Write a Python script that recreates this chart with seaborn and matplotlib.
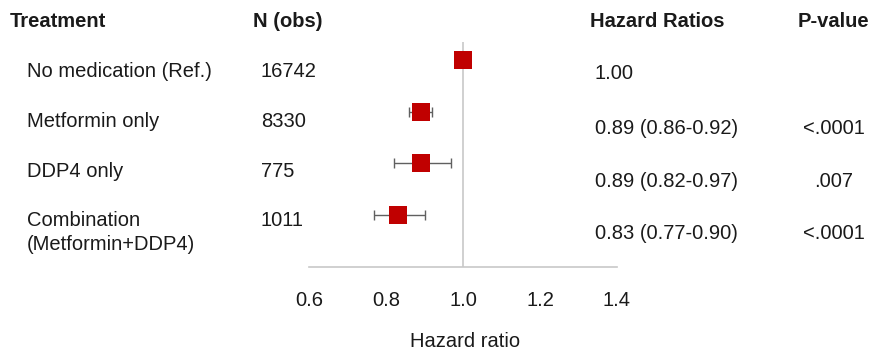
import matplotlib
matplotlib.use("Agg")
import matplotlib.pyplot as plt
import seaborn as sns
import pandas as pd

# ---- data ----
treatments = ["No medication (Ref.)", "Metformin only", "DDP4 only", "Combination\n(Metformin+DDP4)"]
n_obs = ["16742", "8330", "775", "1011"]
hr = [1.00, 0.89, 0.89, 0.83]
ci_low = [1.00, 0.86, 0.82, 0.77]
ci_high = [1.00, 0.92, 0.97, 0.90]
hr_text = ["1.00", "0.89 (0.86-0.92)", "0.89 (0.82-0.97)", "0.83 (0.77-0.90)"]
p_values = ["", "<.0001", ".007", "<.0001"]
x_ticks = [0.6, 0.8, 1.0, 1.2, 1.4]
x_tick_labels = ["0.6", "0.8", "1.0", "1.2", "1.4"]

sns.set_theme(style="white")
plt.rcParams["font.family"] = ["Liberation Sans", "DejaVu Sans"]

W, H = 875, 350
fig = plt.figure(figsize=(W / 100, H / 100), dpi=100)

def fx(px):
    return px / W

def fy(py):
    return 1 - py / H

ax_left, ax_right, ax_top, ax_bottom = 309, 617, 42, 267
ax = fig.add_axes([fx(ax_left), fy(ax_bottom), fx(ax_right - ax_left), (ax_bottom - ax_top) / H])

df = pd.DataFrame({"row": list(range(len(hr))), "hr": hr, "lo": ci_low, "hi": ci_high})

# error bars (skip reference row with zero width)
for _, r in df.iterrows():
    if r["hi"] > r["lo"]:
        ax.errorbar(r["hr"], r["row"], xerr=[[r["hr"] - r["lo"]], [r["hi"] - r["hr"]]],
                    fmt="none", ecolor="#606060", elinewidth=1.0, capsize=3.5, capthick=1.0, zorder=2)

ax.axvline(1.0, color="#c8c8c8", lw=1.2, zorder=1)

sns.scatterplot(data=df, x="hr", y="row", marker="s", s=180, color="#c00000",
                edgecolor="#c00000", linewidth=0, ax=ax, zorder=3, legend=False)

ax.set_xlim(0.6, 1.4)
ax.set_ylim(4.006, -0.348)
ax.set_xticks(x_ticks)
ax.set_xticklabels(x_tick_labels, fontsize=14.5, color="#1a1a1a")
ax.set_yticks([])
ax.set_xlabel("")
ax.set_ylabel("")
for s in ["top", "right", "left"]:
    ax.spines[s].set_visible(False)
ax.spines["bottom"].set_color("#c8c8c8")
ax.spines["bottom"].set_linewidth(1.2)
ax.tick_params(axis="x", length=0, pad=17)
ax.patch.set_alpha(0)

fs = 14.5
col = "#1a1a1a"
# headers
fig.text(fx(10), fy(27), "Treatment", fontsize=fs, fontweight="bold", color=col, va="baseline")
fig.text(fx(253), fy(27), "N (obs)", fontsize=fs, fontweight="bold", color=col, va="baseline")
fig.text(fx(590), fy(27), "Hazard Ratios", fontsize=fs, fontweight="bold", color=col, va="baseline")
fig.text(fx(798), fy(27), "P-value", fontsize=fs, fontweight="bold", color=col, va="baseline")

label_base = [77, 127, 177, 226]
hr_base = [79, 134, 187, 239]
for i, t in enumerate(treatments):
    lines = t.split("\n")
    for j, ln in enumerate(lines):
        fig.text(fx(27), fy(label_base[i] + 24 * j), ln, fontsize=fs, color=col, va="baseline")
    fig.text(fx(261), fy(label_base[i]), n_obs[i], fontsize=fs, color=col, va="baseline")
    fig.text(fx(595), fy(hr_base[i]), hr_text[i], fontsize=fs, color=col, va="baseline")
    if p_values[i]:
        fig.text(fx(834), fy(hr_base[i]), p_values[i], fontsize=fs, color=col, va="baseline", ha="center")

fig.text(fx(465), fy(347), "Hazard ratio", fontsize=fs, color=col, va="baseline", ha="center")

fig.savefig("out.png", dpi=100)
